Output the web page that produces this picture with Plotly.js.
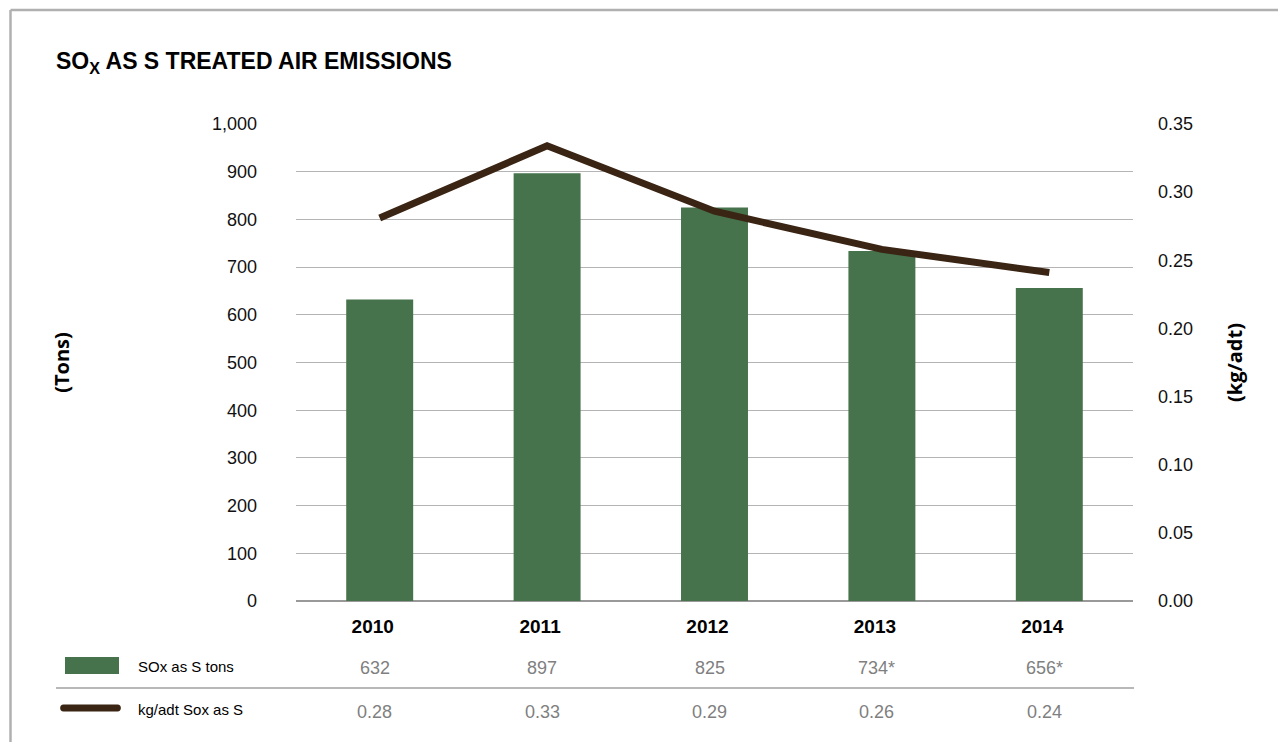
<!DOCTYPE html>
<html>
<head>
<meta charset="utf-8">
<script src="https://cdn.plot.ly/plotly-3.0.1.min.js"></script>
<style>
  html, body { margin: 0; padding: 0; background: #fff; }
  #chart { width: 1278px; height: 742px; }
</style>
</head>
<body>
<div id="chart"></div>
<script>
// ---- data ----
const years = ['2010', '2011', '2012', '2013', '2014'];
const soxTons = [632, 897, 825, 734, 656];
const soxTonsLabels = ['632', '897', '825', '734*', '656*'];
const kgPerAdt = [0.281, 0.334, 0.286, 0.258, 0.241];
const kgPerAdtLabels = ['0.28', '0.33', '0.29', '0.26', '0.24'];
const seriesNames = ['SOx as S tons', 'kg/adt Sox as S'];

// ---- layout constants (pixels) ----
const W = 1278, H = 742;
const PL = 296, PR = 1133, PT = 124, PB = 601;
const px2x = p => (p - PL) / (PR - PL);
const py2y = p => (PB - p) / (PB - PT);

const green = '#46734b';
const brown = '#3a2413';
const fontFam = '"Liberation Sans", Arial, Helvetica, sans-serif';
const narrowFam = '"Liberation Sans Narrow", "Arial Narrow", "Liberation Sans", Arial, sans-serif';

const traces = [
  {
    type: 'bar', x: years, y: soxTons, name: seriesNames[0],
    marker: { color: green }, yaxis: 'y', hoverinfo: 'x+y'
  },
  {
    type: 'scatter', mode: 'lines', x: years, y: kgPerAdt, name: seriesNames[1],
    line: { color: brown, width: 7 }, yaxis: 'y2', hoverinfo: 'x+y'
  }
];

const annotations = [];
years.forEach((yr, i) => {
  // category axis: annotation x given as category index
  annotations.push({
    x: i, xref: 'x', y: py2y(668), yref: 'paper', text: soxTonsLabels[i],
    showarrow: false, xanchor: 'center', yanchor: 'middle', xshift: -5,
    font: { family: fontFam, size: 18, color: '#7f7f7f' }
  });
  annotations.push({
    x: i, xref: 'x', y: py2y(712), yref: 'paper', text: kgPerAdtLabels[i],
    showarrow: false, xanchor: 'center', yanchor: 'middle', xshift: -5,
    font: { family: fontFam, size: 18, color: '#7f7f7f' }
  });
});
annotations.push({
  x: px2x(136), xref: 'paper', y: py2y(666), yref: 'paper', text: seriesNames[0],
  showarrow: false, xanchor: 'left', yanchor: 'middle',
  font: { family: narrowFam, size: 15, color: '#000' }
});
annotations.push({
  x: px2x(136), xref: 'paper', y: py2y(709), yref: 'paper', text: seriesNames[1],
  showarrow: false, xanchor: 'left', yanchor: 'middle',
  font: { family: narrowFam, size: 15, color: '#000' }
});

const shapes = [
  // frame
  { type: 'line', xref: 'paper', yref: 'paper', x0: px2x(10.5), x1: px2x(1290), y0: py2y(10), y1: py2y(10),
    line: { color: '#b0b0b0', width: 2.5 } },
  { type: 'line', xref: 'paper', yref: 'paper', x0: px2x(10.5), x1: px2x(10.5), y0: py2y(10), y1: py2y(760),
    line: { color: '#b0b0b0', width: 2.5 } },
  // table separator
  { type: 'line', xref: 'paper', yref: 'paper', x0: px2x(56), x1: px2x(1134), y0: py2y(688), y1: py2y(688),
    line: { color: '#a0a0a0', width: 1.5 } },
  // legend swatch bar
  { type: 'rect', xref: 'paper', yref: 'paper', x0: px2x(65), x1: px2x(119), y0: py2y(657), y1: py2y(674),
    fillcolor: green, line: { width: 0 } },
  // legend swatch line (rounded)
  { type: 'path', xref: 'paper', yref: 'paper', xsizemode: 'pixel', ysizemode: 'pixel',
    xanchor: px2x(60), yanchor: py2y(708),
    path: 'M 3.5 -3.5 L 57.5 -3.5 C 62 -3.5 62 3.5 57.5 3.5 L 3.5 3.5 C -1 3.5 -1 -3.5 3.5 -3.5 Z',
    fillcolor: brown, line: { width: 0 } }
];

const layout = {
  width: W, height: H,
  margin: { l: PL, r: W - PR, t: PT, b: H - PB, pad: 0 },
  paper_bgcolor: '#fff', plot_bgcolor: '#fff',
  font: { family: fontFam, size: 18, color: '#000' },
  showlegend: false,
  bargap: 0.6,
  title: {
    text: '<b>SO<sub>X</sub> AS S TREATED AIR EMISSIONS</b>',
    xref: 'container', yref: 'container', x: 56 / W, xanchor: 'left',
    y: 1 - 61 / H, yanchor: 'middle',
    font: { family: fontFam, size: 23, color: '#000' }
  },
  xaxis: {
    type: 'category', range: [-0.5, years.length - 0.5], autorange: false,
    showgrid: false, zeroline: false,
    showline: false, ticks: '',
    tickfont: { family: narrowFam, size: 19, color: '#000', weight: 'bold' },
    ticklabelstandoff: 12, ticklabelshift: -7,
    fixedrange: true
  },
  yaxis: {
    range: [0, 1000], autorange: false, dtick: 100, tickformat: ',d',
    showgrid: true, gridcolor: '#b4b4b4', gridwidth: 1,
    zeroline: true, zerolinecolor: '#999999', zerolinewidth: 2,
    showline: false, ticks: '', ticklabelstandoff: 38,
    tickfont: { family: fontFam, size: 18, color: '#111' },
    title: { text: '<b>(Tons)</b>', standoff: 136,
      font: { family: '"Open Sans", "Liberation Sans", sans-serif', size: 20, color: '#000' } },
    fixedrange: true
  },
  yaxis2: {
    overlaying: 'y', side: 'right', range: [0, 0.35], autorange: false, dtick: 0.05, tickformat: '.2f',
    showgrid: false, zeroline: false, showline: false, ticks: '', ticklabelstandoff: 24,
    tickfont: { family: fontFam, size: 18, color: '#111' },
    title: { text: '<b>(kg/adt)</b>', standoff: 35,
      font: { family: '"Open Sans", "Liberation Sans", sans-serif', size: 20, color: '#000' } },
    fixedrange: true
  },
  annotations: annotations,
  shapes: shapes
};

Plotly.newPlot('chart', traces, layout, { displayModeBar: false, staticPlot: true });
</script>
</body>
</html>
